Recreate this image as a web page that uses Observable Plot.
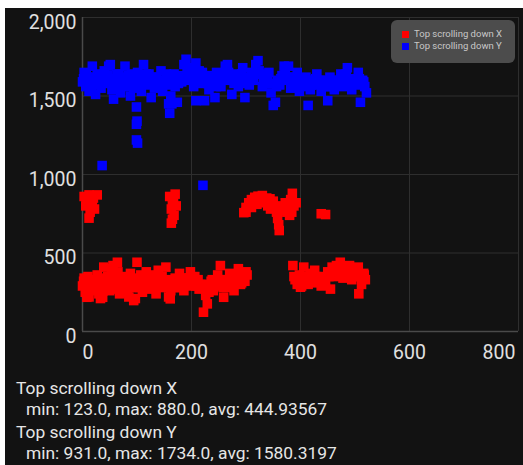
<!DOCTYPE html>
<html>
<head>
<meta charset="utf-8">
<script src="https://cdn.jsdelivr.net/npm/d3@7"></script>
<script src="https://cdn.jsdelivr.net/npm/@observablehq/plot@0.6"></script>
<style>
  html, body { margin: 0; padding: 0; background: #ffffff; }
  #wrap { position: absolute; left: 5px; top: 8px; width: 518px; height: 457px; background: #121212; font-family: Roboto, sans-serif; overflow: hidden; }
  #legend { position: absolute; left: 386px; top: 12px; width: 124px; height: 43px; background: #4c4c4c; border-radius: 6px; font-size: 9.5px; color: #c8c8c8; }
  .lrow { position: absolute; left: 11px; height: 12px; line-height: 12px; white-space: nowrap; }
  .lsw { display: inline-block; width: 7px; height: 7px; margin-right: 5px; vertical-align: -0.5px; }
  #stats { position: absolute; left: 11px; top: 370px; color: #e6e6e6; font-size: 17.4px; line-height: 21px; }
  .grp { margin-bottom: 2px; }
  .ind { padding-left: 10px; }
</style>
</head>
<body>
<div id="wrap">
  <div id="chart"></div>
  <div id="legend"></div>
  <div id="stats"></div>
</div>
<script>
// Series names and colours
const seriesNames = ["Top scrolling down X", "Top scrolling down Y"];
const seriesColors = ["#ff0000", "#0000ff"];

// Tick values
const xTicks = [0, 200, 400, 600, 800];
const yTicks = [0, 500, 1000, 1500, 2000];

// Summary text
const statsLines = [
  "min: 123.0, max: 880.0, avg: 444.93567",
  "min: 931.0, max: 1734.0, avg: 1580.3197"
];

// Series X (red): x positions and values
const redX = [
  0, 3, 5, 8, 9, 12, 15, 18, 24, 27, 30, 33, 37, 39, 40, 43, 46, 50, 53, 56, 58, 62, 64, 65, 68, 72, 75, 78, 82, 85, 88, 92, 94, 95, 97, 100, 100, 104, 107, 110, 114, 117, 120, 124, 128, 131, 135, 139, 142, 146, 149, 153, 155, 158, 161, 162, 166, 170, 174, 178, 182, 186, 190, 194, 198, 202, 206, 210, 214, 218, 222, 226, 229, 232, 236, 240, 244, 248, 253, 254, 258, 259, 262, 266, 270, 274, 278, 282, 286, 290, 294, 298, 300,
  2, 6, 10, 14, 20, 26, 29, 35, 38, 42, 48, 52, 55, 60, 66, 70, 74, 80, 84, 90, 96, 102, 106, 112, 116, 122, 126, 133, 137, 144, 150, 156, 164, 168, 172, 176, 180, 184, 188, 192, 196, 200, 204, 208, 212, 216, 224, 234, 238, 242, 246, 252, 256, 260, 264, 268, 272, 276, 280, 284, 288, 292, 296, 302,
  386, 390, 394, 398, 400, 402, 406, 410, 414, 418, 422, 426, 430, 434, 438, 442, 446, 450, 455, 458, 462, 466, 470, 473, 478, 482, 486, 490, 494, 498, 502, 506, 507, 512, 516, 519,
  388, 396, 404, 412, 420, 428, 436, 444, 452, 460, 468, 476, 484, 492, 500, 508, 514, 517,
  3, 8, 12, 16, 20, 22, 27, 14, 12, 6, 18,
  160, 165, 170, 163, 172, 168, 165, 163, 167,
  296, 300, 305, 310, 316, 322, 330, 338, 344, 350, 352, 356, 358, 360, 361, 364, 368, 372, 378, 382, 385, 388, 384,
  300, 310, 320, 330, 340, 345, 312, 375, 380, 392,
  438, 446
];
const redY = [
  290, 340, 250, 218, 310, 220, 270, 330, 300, 360, 240, 210, 218, 410, 320, 280, 350, 260, 400, 420, 330, 300, 441, 380, 240, 350, 290, 330, 250, 220, 370, 300, 197, 330, 210, 340, 441, 280, 360, 250, 320, 380, 300, 270, 360, 330, 240, 390, 300, 350, 280, 410, 330, 220, 208, 260, 300, 340, 280, 370, 320, 260, 340, 300, 380, 290, 350, 320, 270, 300, 123, 230, 176, 250, 320, 260, 310, 360, 420, 300, 280, 218, 330, 300, 370, 310, 260, 340, 400, 300, 350, 320, 380,
  320, 280, 350, 300, 260, 330, 280, 300, 260, 340, 300, 330, 360, 270, 320, 290, 320, 340, 300, 330, 280, 310, 300, 340, 290, 320, 300, 310, 290, 320, 310, 300, 320, 280, 310, 320, 290, 340, 300, 320, 340, 310, 320, 290, 330, 300, 280, 300, 330, 290, 320, 300, 330, 300, 280, 320, 340, 290, 310, 360, 340, 310, 350, 360,
  420, 330, 300, 360, 282, 290, 410, 340, 300, 370, 330, 390, 310, 350, 290, 330, 300, 380, 270, 410, 350, 420, 380, 441, 340, 400, 360, 420, 330, 380, 350, 410, 240, 300, 370, 330,
  350, 330, 350, 320, 340, 350, 320, 340, 350, 380, 370, 390, 380, 370, 360, 350, 340, 360,
  860, 830, 870, 800, 850, 780, 870, 760, 722, 800, 820,
  860, 820, 875, 780, 800, 740, 715, 690, 840,
  757, 790, 820, 840, 855, 862, 866, 850, 845, 830, 790, 760, 720, 680, 643, 800, 770, 820, 790, 840, 880, 800, 760,
  760, 790, 810, 820, 800, 780, 820, 760, 740, 820,
  750, 745
];

// Series Y (blue): x positions and values
const blueX = [
  0, 3, 6, 9, 12, 15, 18, 21, 24, 27, 30, 34, 37, 40, 44, 48, 51, 54, 57, 60, 64, 67, 70, 74, 78, 81, 84, 88, 91, 94, 97, 101, 104, 108, 112, 115, 118, 122, 126, 129, 132, 136, 140, 144, 147, 150, 154, 158, 162, 166, 170, 174, 178, 182, 186, 190, 193, 196, 200, 204, 208, 212, 216, 220, 224, 228, 232, 236, 240, 243, 246, 250, 254, 258, 262, 266, 270, 274, 278, 282, 286, 290, 294, 298, 302, 306, 310, 314, 318, 322, 326, 330, 334, 338, 342, 346, 350, 354, 358, 362, 366, 370, 374, 378, 382, 386, 390, 394, 398, 402, 406, 410, 414, 418, 422, 426, 430, 434, 438, 442, 446, 450, 454, 458, 462, 466, 470, 474, 478, 482, 486, 490, 494, 498, 502, 506, 510, 514, 518, 521,
  2, 7, 11, 16, 20, 26, 32, 39, 46, 52, 58, 63, 69, 76, 83, 90, 96, 103, 110, 117, 124, 131, 138, 145, 152, 160, 168, 176, 184, 192, 198, 206, 214, 222, 230, 238, 245, 252, 260, 268, 276, 284, 292, 300, 308, 316, 324, 332, 340, 348, 356, 364, 372, 380, 388, 396, 404, 412, 420, 428, 436, 444, 452, 460, 468, 476, 484, 492, 500, 508, 516,
  36, 99, 100, 99, 99, 101, 160, 158, 164, 208, 221
];
const blueY = [
  1590, 1650, 1560, 1620, 1530, 1600, 1690, 1570, 1510, 1640, 1590, 1550, 1620, 1660, 1580, 1690, 1700, 1540, 1480, 1610, 1570, 1640, 1520, 1600, 1690, 1560, 1630, 1500, 1590, 1550, 1620, 1650, 1580, 1530, 1700, 1610, 1570, 1640, 1490, 1600, 1550, 1620, 1580, 1660, 1530, 1600, 1640, 1570, 1500, 1610, 1560, 1460, 1630, 1590, 1700, 1734, 1650, 1600, 1680, 1560, 1710, 1620, 1580, 1650, 1470, 1600, 1540, 1630, 1580, 1490, 1650, 1600, 1560, 1640, 1690, 1700, 1610, 1510, 1580, 1640, 1560, 1600, 1680, 1490, 1620, 1570, 1650, 1600, 1700, 1725, 1640, 1560, 1610, 1580, 1650, 1520, 1440, 1460, 1600, 1570, 1630, 1690, 1600, 1690, 1550, 1620, 1580, 1650, 1530, 1600, 1560, 1620, 1440, 1540, 1600, 1580, 1640, 1570, 1530, 1600, 1560, 1470, 1620, 1580, 1540, 1600, 1570, 1640, 1560, 1620, 1680, 1590, 1540, 1610, 1570, 1650, 1460, 1600, 1560, 1520,
  1610, 1640, 1580, 1560, 1620, 1600, 1620, 1600, 1630, 1610, 1560, 1640, 1590, 1620, 1580, 1640, 1580, 1620, 1590, 1640, 1580, 1620, 1560, 1600, 1580, 1620, 1640, 1580, 1620, 1660, 1640, 1620, 1660, 1600, 1580, 1600, 1560, 1620, 1600, 1650, 1600, 1600, 1640, 1580, 1600, 1640, 1660, 1600, 1620, 1580, 1560, 1610, 1640, 1620, 1600, 1590, 1580, 1600, 1570, 1610, 1600, 1580, 1560, 1600, 1580, 1600, 1640, 1580, 1600, 1610, 1590,
  1057, 1430, 1340, 1320, 1220, 1200, 1390, 1450, 1450, 1470, 931
];

const points = [
  ...redX.map((x, i) => ({x, y: redY[i], s: seriesNames[0]})),
  ...blueX.map((x, i) => ({x, y: blueY[i], s: seriesNames[1]}))
];

const axisFont = 19.5;
const axisColor = "#e0e0e0";

const chart = Plot.plot({
  width: 518,
  height: 365,
  marginLeft: 77,
  marginRight: 5,
  marginTop: 9,
  marginBottom: 42,
  style: {background: "transparent", color: axisColor, fontFamily: "Roboto, sans-serif", overflow: "visible"},
  x: {domain: [0, 800], ticks: xTicks},
  y: {domain: [0, 2000], ticks: yTicks},
  color: {domain: seriesNames, range: seriesColors},
  marks: [
    Plot.gridX(xTicks, {stroke: "#2e2e2e", strokeOpacity: 1}),
    Plot.gridY(yTicks, {stroke: "#2e2e2e", strokeOpacity: 1}),
    Plot.ruleX([0], {stroke: "#4a4a4a", strokeWidth: 1.5}),
    Plot.ruleY([0], {stroke: "#4a4a4a", strokeWidth: 1.5}),
    Plot.axisX(xTicks.slice(0, 1), {tickSize: 0, tickPadding: 14, fontSize: axisFont, label: null, fill: axisColor, textAnchor: "start", dx: 0}),
    Plot.axisX(xTicks.slice(1, -1), {tickSize: 0, tickPadding: 14, fontSize: axisFont, label: null, fill: axisColor}),
    Plot.axisX(xTicks.slice(-1), {tickSize: 0, tickPadding: 14, fontSize: axisFont, label: null, fill: axisColor, textAnchor: "end", dx: -3}),
    Plot.axisY({ticks: yTicks, tickSize: 0, tickPadding: 6, fontSize: axisFont, dy: 5, label: null, tickFormat: d3.format(","), fill: axisColor}),
    Plot.dot(points, {x: "x", y: "y", fill: "s", symbol: "square", r: 5.4})
  ]
});
document.getElementById("chart").appendChild(chart);

const legend = document.getElementById("legend");
seriesNames.forEach((name, i) => {
  const row = document.createElement("div");
  row.className = "lrow";
  row.style.top = (8 + i * 12) + "px";
  const sw = document.createElement("span");
  sw.className = "lsw";
  sw.style.background = seriesColors[i];
  row.appendChild(sw);
  row.appendChild(document.createTextNode(name));
  legend.appendChild(row);
});

const stats = document.getElementById("stats");
seriesNames.forEach((name, i) => {
  const g = document.createElement("div");
  g.className = "grp";
  const t = document.createElement("div");
  t.textContent = name;
  const m = document.createElement("div");
  m.className = "ind";
  m.textContent = statsLines[i];
  g.appendChild(t);
  g.appendChild(m);
  stats.appendChild(g);
});
</script>
</body>
</html>
